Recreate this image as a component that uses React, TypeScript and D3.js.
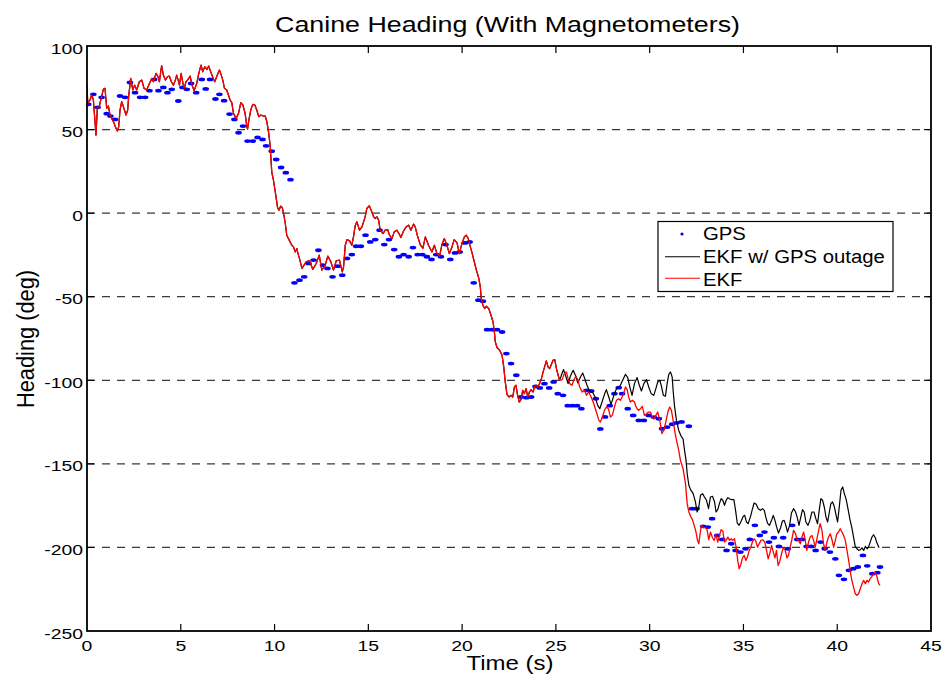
import React from 'react';
import * as d3 from 'd3';

const W = 948;
const H = 681;

const xTicks = [0, 5, 10, 15, 20, 25, 30, 35, 40, 45];
const yTicks = [100, 50, 0, -50, -100, -150, -200, -250];
const gridValues = [50, 0, -50, -100, -150, -200];

const titleText = 'Canine Heading (With Magnetometers)';
const xLabelText = 'Time (s)';
const yLabelText = 'Heading (deg)';
const legendLabels = ['GPS', 'EKF w/ GPS outage', 'EKF'];

// GPS samples [time s, heading deg]
const gps: [number, number][] = [
  [0.07, 65.1], [0.34, 71.1], [0.57, 63.3], [0.78, 69.3], [1.05, 59.5], [1.25, 58.1], [1.49, 56.1], [1.76, 70.1],
  [2.03, 69.3], [2.29, 78.2], [2.56, 72.1], [2.83, 69.3], [3.1, 69.3], [3.33, 73.3], [3.58, 80.0], [3.81, 73.3],
  [4.07, 75.2], [4.29, 72.1], [4.52, 74.1], [4.87, 67.1], [5.09, 75.2], [5.32, 74.1], [5.55, 77.6], [5.82, 72.1],
  [6.12, 80.0], [6.33, 74.3], [6.56, 80.0], [6.85, 68.3], [7.06, 71.1], [7.31, 67.3], [7.6, 59.3], [7.86, 56.1],
  [8.08, 48.1], [8.32, 52.1], [8.56, 43.1], [8.84, 43.1], [9.09, 45.3], [9.36, 44.1], [9.55, 40.3], [9.85, 37.1],
  [10.09, 32.1], [10.35, 27.3], [10.6, 24.2], [10.85, 20.0],
  [11.06, -41.7], [11.33, -40.1], [11.58, -38.1], [11.81, -30.1], [12.08, -28.1], [12.34, -22.2], [12.58, -31.1],
  [12.82, -33.1], [13.09, -38.1], [13.36, -31.7], [13.61, -37.1], [13.86, -27.1], [14.12, -24.8], [14.35, -19.8],
  [14.6, -19.8], [14.85, -13.2], [15.1, -17.2], [15.37, -15.8], [15.6, -10.2], [15.85, -18.8], [16.1, -15.8],
  [16.38, -21.8], [16.63, -26.1], [16.88, -24.8], [17.15, -26.1], [17.38, -20.6], [17.63, -24.8], [17.88, -24.8],
  [18.12, -26.1], [18.37, -27.7], [18.62, -24.8], [18.87, -26.1], [19.12, -18.8], [19.37, -27.7], [19.62, -23.8],
  [19.87, -23.2], [20.15, -17.8], [20.4, -17.2], [20.62, -41.7], [20.87, -52.1], [21.11, -52.7], [21.33, -69.7],
  [21.59, -69.7], [21.86, -69.7], [22.13, -71.1], [22.36, -84.0], [22.61, -90.0], [22.89, -97.0], [23.14, -110.0],
  [23.43, -110.4], [23.68, -110.0], [23.91, -103.6], [24.14, -104.6], [24.39, -102.0], [24.64, -104.6],
  [24.88, -101.0], [25.1, -108.0], [25.38, -109.0], [25.63, -115.2], [25.88, -115.2], [26.13, -115.2],
  [26.36, -117.0], [26.63, -106.0], [26.88, -106.4], [27.13, -111.0], [27.37, -129.1], [27.62, -121.9],
  [27.87, -115.2], [28.12, -108.0], [28.35, -104.4],
  [28.53, -108.0], [28.83, -117.0], [29.12, -121.0], [29.42, -124.0], [29.69, -124.0], [29.95, -121.0],
  [30.22, -122.0], [30.49, -123.0], [30.66, -129.0], [30.93, -128.0], [31.2, -126.3], [31.43, -125.5],
  [31.7, -124.9], [32.09, -127.5],
  [32.26, -176.8], [32.5, -176.8], [32.85, -187.4], [33.1, -187.8], [33.33, -182.8], [33.6, -192.8],
  [33.87, -195.2], [34.1, -201.8], [34.35, -197.8], [34.58, -201.8], [34.84, -202.8], [35.11, -200.8],
  [35.34, -195.2], [35.61, -186.8], [35.87, -192.8], [36.12, -190.8], [36.36, -196.8], [36.62, -194.2],
  [36.89, -199.4], [37.12, -194.2], [37.37, -200.8], [37.6, -186.8], [37.87, -195.2], [38.13, -195.2],
  [38.37, -199.4], [38.61, -199.4], [38.85, -201.8], [39.11, -196.8], [39.33, -200.8], [39.61, -202.8],
  [39.9, -206.8], [40.09, -216.7], [40.36, -219.1], [40.62, -213.7], [40.86, -212.7], [41.1, -211.7],
  [41.37, -204.8], [41.6, -211.0], [41.87, -215.7], [42.14, -215.1], [42.28, -211.7],
];

// EKF estimate shared by both filters until the outage begins
const ekfShared: [number, number][] = [
  [0, 76.6], [0.04, 65.7], [0.16, 67.7], [0.25, 70.7], [0.34, 67.7], [0.48, 46.7], [0.55, 62.7], [0.66, 63.7],
  [0.69, 65.7], [0.78, 69.7], [0.87, 74.1], [0.96, 74.7], [1.05, 62.7], [1.14, 64.1], [1.23, 58.7], [1.41, 54.7],
  [1.55, 50.7], [1.62, 49.1], [1.69, 51.7], [1.76, 61.7], [1.85, 66.7], [1.94, 63.7], [2.08, 58.7], [2.17, 61.7],
  [2.22, 69.7], [2.33, 80.6], [2.44, 73.7], [2.54, 76.6], [2.65, 73.7], [2.79, 78.6], [2.92, 79.6], [3.04, 74.7],
  [3.18, 73.7], [3.33, 77.6], [3.45, 80.6], [3.54, 78.6], [3.68, 83.6], [3.79, 81.6], [3.86, 78.6], [3.93, 84.6],
  [3.98, 88.2], [4.07, 82.6], [4.18, 79.6], [4.29, 81.6], [4.39, 82.0], [4.5, 78.6], [4.61, 76.6], [4.71, 79.6],
  [4.78, 82.6], [4.86, 79.6], [4.93, 76.6], [4.98, 80.6], [5.02, 83.6], [5.1, 78.6], [5.18, 74.7], [5.28, 78.6],
  [5.39, 80.0], [5.5, 82.0], [5.6, 76.6], [5.71, 73.3], [5.85, 77.6], [5.94, 82.6], [6.03, 86.6], [6.08, 88.6],
  [6.17, 84.6], [6.28, 87.6], [6.39, 86.0], [6.49, 88.0], [6.56, 85.6], [6.71, 81.2], [6.81, 78.6], [6.95, 82.6],
  [7.06, 85.6], [7.13, 83.6], [7.24, 79.6], [7.33, 74.7], [7.45, 73.7], [7.52, 71.3], [7.63, 67.7], [7.72, 66.1],
  [7.81, 59.7], [7.95, 56.7], [8.08, 59.7], [8.2, 66.1], [8.31, 64.7], [8.43, 59.7], [8.52, 51.7], [8.56, 50.3],
  [8.63, 55.7], [8.73, 61.7], [8.84, 65.1], [8.95, 64.7], [9.05, 61.7], [9.16, 57.7], [9.27, 58.7], [9.41, 58.1],
  [9.5, 58.1], [9.59, 54.7], [9.69, 47.7], [9.77, 39.7], [9.85, 24.7], [9.94, 19.8], [10.05, 11.8], [10.16, 3.4],
  [10.23, 1.8], [10.33, 4.2], [10.41, 3.4], [10.48, -0.2], [10.57, -6.0], [10.65, -13.2], [10.8, -16.6],
  [10.92, -19.2], [11.01, -20.2], [11.1, -23.2], [11.19, -21.2], [11.24, -23.8], [11.33, -27.2], [11.46, -33.0],
  [11.58, -31.0], [11.69, -29.0], [11.86, -28.5], [12.04, -33.7], [12.22, -30.1], [12.38, -25.1], [12.52, -34.1],
  [12.7, -31.1], [12.84, -25.7], [13.0, -29.1], [13.14, -34.1], [13.29, -28.5], [13.46, -28.1], [13.61, -35.1],
  [13.68, -32.1], [13.77, -19.2], [13.86, -15.8], [14.0, -16.6], [14.12, -19.2], [14.21, -14.0], [14.3, -7.5],
  [14.39, -5.2], [14.53, -10.2], [14.66, -8.2], [14.83, -2.2], [14.92, 2.8], [15.05, 4.4], [15.15, 1.8],
  [15.28, -2.2], [15.37, -3.2], [15.46, -2.2], [15.55, -4.2], [15.63, -10.2], [15.78, -12.2], [15.9, -10.2],
  [16.03, -9.8], [16.13, -13.2], [16.26, -15.2], [16.38, -11.2], [16.52, -10.2], [16.63, -12.2], [16.74, -14.6],
  [16.88, -10.6], [17.02, -8.2], [17.15, -7.2], [17.27, -10.2], [17.41, -6.6], [17.5, -8.2], [17.63, -14.0],
  [17.77, -19.0], [17.91, -21.0], [18.04, -14.2], [18.21, -19.2], [18.39, -23.2], [18.52, -19.2], [18.66, -24.2],
  [18.8, -25.7], [18.93, -18.6], [19.05, -15.2], [19.19, -19.2], [19.32, -24.2], [19.46, -20.2], [19.58, -15.8],
  [19.73, -17.8], [19.85, -24.2], [19.99, -18.2], [20.12, -14.2], [20.22, -13.2], [20.33, -15.2], [20.44, -20.2],
  [20.54, -24.2], [20.65, -29.1], [20.76, -34.1], [20.88, -38.5], [20.97, -44.1], [21.02, -51.1], [21.11, -55.1],
  [21.2, -57.1], [21.29, -55.7], [21.42, -57.1], [21.54, -61.1], [21.65, -65.1], [21.72, -71.1], [21.77, -77.0],
  [21.86, -80.4], [22.0, -82.0], [22.13, -85.0], [22.22, -92.0], [22.29, -100.0], [22.39, -108.4], [22.5, -110.0],
  [22.61, -109.0], [22.7, -110.0], [22.79, -104.0], [22.87, -103.0], [22.96, -109.0], [23.05, -113.0],
  [23.14, -111.6], [23.23, -106.0], [23.32, -108.0], [23.41, -105.0], [23.5, -110.0], [23.59, -107.0],
  [23.68, -105.6], [23.78, -107.0], [23.87, -103.6], [23.96, -103.0], [24.05, -104.0], [24.14, -101.6],
  [24.23, -99.0], [24.32, -95.0], [24.4, -92.0], [24.49, -88.4], [24.58, -92.0], [24.67, -93.0], [24.76, -90.4],
  [24.85, -88.0], [24.94, -87.6], [25.03, -93.0], [25.12, -97.0], [25.2, -100.0],
];

// EKF (with GPS) after the split
const ekfTail: [number, number][] = [
  [25.33, -99.6], [25.45, -96.0], [25.56, -95.0], [25.65, -99.0], [25.74, -102.0], [25.86, -103.0], [25.95, -100.0],
  [26.06, -97.6], [26.17, -99.6], [26.27, -104.0], [26.4, -107.0], [26.52, -106.0], [26.63, -109.0], [26.75, -107.0],
  [26.88, -110.0], [27.02, -114.0], [27.16, -119.0], [27.29, -124.0], [27.37, -125.0], [27.48, -122.0],
  [27.59, -118.0], [27.69, -116.0], [27.8, -117.0], [27.91, -122.0], [28.01, -121.0], [28.12, -116.0],
  [28.23, -112.0], [28.35, -111.0], [28.44, -112.0], [28.53, -110.0], [28.62, -107.6], [28.71, -104.0],
  [28.8, -105.6], [28.88, -110.0], [28.97, -113.0], [29.08, -112.0], [29.19, -113.0], [29.29, -116.4],
  [29.4, -118.0], [29.51, -117.0], [29.61, -115.6], [29.72, -121.0], [29.83, -120.0], [29.93, -119.0],
  [30.04, -119.0], [30.13, -122.0], [30.22, -123.2], [30.33, -121.0], [30.43, -119.0], [30.54, -124.0],
  [30.65, -131.9], [30.75, -129.9], [30.86, -125.0], [30.97, -119.0], [31.07, -116.0], [31.16, -118.0],
  [31.25, -124.0], [31.36, -131.9], [31.46, -137.5], [31.55, -141.9], [31.64, -147.9], [31.78, -152.9],
  [31.91, -161.8], [32.0, -173.8], [32.09, -178.8], [32.18, -181.4], [32.28, -183.4], [32.37, -186.8],
  [32.46, -190.2], [32.55, -195.8], [32.62, -197.8], [32.69, -191.8], [32.76, -186.8], [32.87, -188.2],
  [32.98, -188.2], [33.06, -189.4], [33.15, -195.4], [33.24, -190.8], [33.35, -194.2], [33.44, -195.8],
  [33.53, -192.2], [33.63, -196.8], [33.72, -192.8], [33.81, -189.4], [33.9, -190.2], [33.99, -196.8],
  [34.08, -195.8], [34.17, -193.8], [34.26, -195.8], [34.35, -194.8], [34.43, -195.8], [34.52, -194.8],
  [34.61, -199.8], [34.7, -208.2], [34.77, -212.7], [34.86, -210.2], [34.95, -206.2], [35.04, -204.8],
  [35.13, -207.8], [35.22, -205.4], [35.31, -201.8], [35.4, -199.4], [35.48, -196.8], [35.57, -194.8],
  [35.66, -196.2], [35.75, -199.8], [35.84, -197.8], [35.93, -195.8], [36.03, -195.4], [36.14, -196.8],
  [36.23, -201.8], [36.32, -206.8], [36.41, -203.4], [36.5, -198.8], [36.59, -202.8], [36.68, -206.2],
  [36.76, -201.8], [36.85, -210.8], [36.94, -208.2], [37.03, -203.8], [37.12, -200.2], [37.23, -201.8],
  [37.32, -206.2], [37.4, -204.8], [37.49, -199.8], [37.58, -195.4], [37.67, -189.8], [37.76, -191.4],
  [37.85, -194.8], [37.94, -195.8], [38.03, -197.8], [38.12, -193.8], [38.21, -190.8], [38.29, -195.4],
  [38.38, -201.8], [38.47, -196.8], [38.56, -193.8], [38.65, -192.8], [38.74, -195.8], [38.83, -199.8],
  [38.92, -194.8], [39.01, -189.8], [39.09, -185.8], [39.18, -189.4], [39.27, -197.8], [39.36, -201.8],
  [39.45, -196.8], [39.54, -193.8], [39.63, -191.8], [39.72, -195.4], [39.81, -199.8], [39.9, -195.8],
  [39.98, -191.8], [40.07, -190.8], [40.16, -188.8], [40.25, -190.8], [40.34, -192.8], [40.43, -195.8],
  [40.52, -201.8], [40.61, -207.8], [40.7, -214.7], [40.78, -219.7], [40.87, -223.7], [40.96, -227.7],
  [41.05, -228.7], [41.14, -227.7], [41.23, -224.7], [41.32, -221.7], [41.41, -219.7], [41.5, -221.7],
  [41.59, -219.7], [41.67, -220.7], [41.76, -218.7], [41.85, -217.3], [41.94, -215.7], [42.03, -214.7],
  [42.12, -217.7], [42.21, -221.7], [42.28, -222.7],
];

// EKF during GPS outage after the split
const outageTail: [number, number][] = [
  [25.31, -96.4], [25.41, -93.6], [25.54, -98.0], [25.65, -102.0], [25.77, -97.6], [25.92, -94.0], [26.04, -97.0],
  [26.17, -101.6], [26.31, -98.0], [26.43, -95.6], [26.54, -99.0], [26.66, -103.0], [26.81, -107.0],
  [26.95, -107.0], [27.09, -110.0], [27.23, -115.0], [27.34, -117.0], [27.46, -113.0], [27.59, -108.4],
  [27.69, -105.6], [27.82, -110.0], [27.94, -114.4], [28.09, -109.0], [28.23, -105.0], [28.37, -104.0],
  [28.44, -103.0], [28.58, -99.6], [28.71, -96.4], [28.83, -98.4], [28.94, -104.0], [29.06, -109.0],
  [29.19, -102.0], [29.33, -98.4], [29.45, -103.0], [29.56, -106.4], [29.69, -102.0], [29.83, -99.6],
  [29.95, -104.0], [30.08, -108.0], [30.22, -109.0], [30.33, -105.0], [30.43, -101.0], [30.54, -100.0],
  [30.63, -103.6], [30.73, -109.0], [30.84, -109.6], [30.93, -102.0], [31.02, -96.4], [31.11, -95.0],
  [31.2, -98.0], [31.25, -106.0], [31.32, -115.0], [31.43, -124.0], [31.55, -130.0], [31.68, -133.5],
  [31.78, -135.0], [31.86, -141.9], [31.94, -147.9], [32.0, -155.9], [32.09, -162.8], [32.18, -165.4],
  [32.32, -167.8], [32.44, -172.8], [32.53, -178.8], [32.62, -175.8], [32.71, -168.8], [32.82, -167.8],
  [32.92, -169.8], [33.03, -171.8], [33.14, -176.8], [33.24, -169.8], [33.35, -169.4], [33.46, -172.8],
  [33.54, -178.8], [33.63, -177.4], [33.72, -173.8], [33.81, -170.8], [33.9, -171.8], [33.99, -174.8],
  [34.08, -171.8], [34.17, -170.2], [34.27, -171.0], [34.38, -171.4], [34.49, -171.4], [34.58, -177.8],
  [34.67, -185.4], [34.77, -186.8], [34.88, -184.2], [34.99, -181.4], [35.07, -180.8], [35.16, -184.8],
  [35.25, -185.8], [35.38, -181.4], [35.47, -177.4], [35.57, -173.4], [35.68, -174.2], [35.79, -176.8],
  [35.91, -177.8], [36.02, -176.8], [36.11, -177.8], [36.2, -182.2], [36.28, -185.4], [36.39, -186.8],
  [36.5, -183.8], [36.59, -180.8], [36.68, -183.8], [36.76, -187.4], [36.87, -191.4], [36.98, -188.2],
  [37.08, -184.2], [37.17, -183.8], [37.26, -186.8], [37.35, -190.8], [37.46, -186.8], [37.56, -179.4],
  [37.67, -176.8], [37.78, -178.8], [37.87, -182.2], [37.96, -186.8], [38.05, -182.2], [38.15, -177.4],
  [38.24, -178.8], [38.33, -184.8], [38.44, -186.8], [38.54, -183.8], [38.65, -178.8], [38.76, -178.8],
  [38.86, -182.8], [38.95, -185.8], [39.04, -177.8], [39.13, -170.8], [39.22, -171.8], [39.31, -175.8],
  [39.4, -181.8], [39.49, -184.8], [39.58, -178.8], [39.66, -173.8], [39.75, -172.8], [39.84, -175.4],
  [39.93, -180.2], [40.02, -184.8], [40.11, -175.8], [40.2, -165.8], [40.29, -163.8], [40.38, -167.8],
  [40.48, -171.4], [40.59, -177.8], [40.68, -183.4], [40.78, -188.2], [40.87, -193.8], [40.96, -199.4],
  [41.05, -200.8], [41.14, -201.8], [41.23, -201.4], [41.32, -200.2], [41.41, -201.8], [41.5, -199.4],
  [41.59, -200.8], [41.67, -199.8], [41.76, -196.8], [41.85, -193.8], [41.94, -192.4], [42.03, -194.2],
  [42.12, -197.4], [42.23, -200.2],
];

const ekf = [...ekfShared, ...ekfTail];
const ekfOutage = [...ekfShared, ...outageTail];

const FONT = "'Liberation Sans', Arial, Helvetica, sans-serif";

export default function App() {
  const left = 87, right = 931, top = 46, bottom = 631;
  const x = d3.scaleLinear().domain([0, 45]).range([left, right]);
  const y = d3.scaleLinear().domain([-250, 100]).range([bottom, top]);
  const line = d3.line<[number, number]>().x((d) => x(d[0])).y((d) => y(d[1]));

  const tickLen = 7;
  const legX = 658, legY = 221.5, legW = 235, legH = 70;

  return (
    <svg width={W} height={H} style={{ position: 'absolute', left: 0, top: 0, background: '#fff' }} fontFamily={FONT}>
      <rect x={0} y={0} width={W} height={H} fill="#fff" />
      <defs>
        <clipPath id="plot">
          <rect x={left} y={top} width={right - left} height={bottom - top} />
        </clipPath>
      </defs>
      {gridValues.map((v) => (
        <line key={'g' + v} x1={left} x2={right} y1={y(v)} y2={y(v)} stroke="#3a3a3a" strokeWidth={1.2} strokeDasharray="8,7" />
      ))}
      <g clipPath="url(#plot)">
        {gps.map((d, i) => (
          <ellipse key={'p' + i} cx={x(d[0])} cy={y(d[1])} rx={3.3} ry={1.9} fill="#0000ff" />
        ))}
        <path d={line(ekfOutage) || ''} fill="none" stroke="#000" strokeWidth={1.2} strokeLinejoin="round" />
        <path d={line(ekf) || ''} fill="none" stroke="#ff0000" strokeWidth={1.3} strokeLinejoin="round" />
      </g>
      <rect x={left} y={top} width={right - left} height={bottom - top} fill="none" stroke="#000" strokeWidth={1.8} />
      {xTicks.slice(1, -1).map((t) => (
        <g key={'xt' + t}>
          <line x1={x(t)} x2={x(t)} y1={bottom} y2={bottom - tickLen} stroke="#000" strokeWidth={1.2} />
          <line x1={x(t)} x2={x(t)} y1={top} y2={top + tickLen} stroke="#000" strokeWidth={1.2} />
        </g>
      ))}
      {yTicks.slice(1, -1).map((v) => (
        <g key={'yt' + v}>
          <line x1={left} x2={left + tickLen} y1={y(v)} y2={y(v)} stroke="#000" strokeWidth={1.2} />
          <line x1={right} x2={right - tickLen} y1={y(v)} y2={y(v)} stroke="#000" strokeWidth={1.2} />
        </g>
      ))}
      {xTicks.map((t) => (
        <text key={'xl' + t} transform={`translate(${x(t)},${bottom + 19.5}) scale(1.25,1)`} textAnchor="middle" fontSize={15.5} fill="#000">
          {t}
        </text>
      ))}
      {yTicks.map((v) => (
        <text key={'yl' + v} transform={`translate(${left - 4},${y(v) + 7.5}) scale(1.25,1)`} textAnchor="end" fontSize={15.5} fill="#000">
          {v}
        </text>
      ))}
      <text transform={`translate(507.5,31.7) scale(1.22,1)`} textAnchor="middle" fontSize={22} fill="#000">
        {titleText}
      </text>
      <text transform={`translate(510,670) scale(1.2,1)`} textAnchor="middle" fontSize={20} fill="#000">
        {xLabelText}
      </text>
      <text transform={`translate(33.5,339) rotate(-90) scale(1.117,1.24)`} textAnchor="middle" fontSize={19.5} fill="#000">
        {yLabelText}
      </text>
      <g>
        <rect x={legX} y={legY} width={legW} height={legH} fill="#fff" stroke="#000" strokeWidth={1.2} />
        <circle cx={682} cy={234} r={1.6} fill="#0000ff" />
        <line x1={665} x2={700} y1={256.7} y2={256.7} stroke="#000" strokeWidth={1.1} />
        <line x1={665} x2={700} y1={278.3} y2={278.3} stroke="#ff0000" strokeWidth={1.1} />
        {legendLabels.map((lab, i) => (
          <text key={lab} transform={`translate(703,${240 + i * 23}) scale(1.13,1)`} fontSize={18} fill="#000">
            {lab}
          </text>
        ))}
      </g>
    </svg>
  );
}
